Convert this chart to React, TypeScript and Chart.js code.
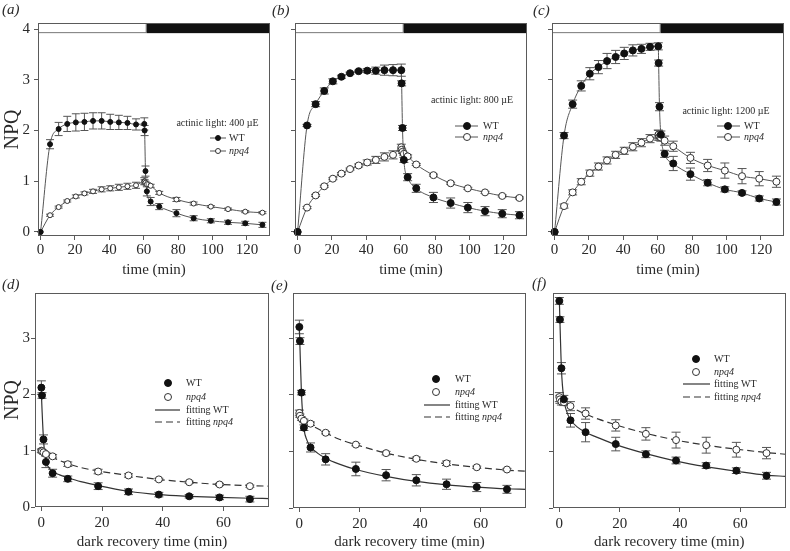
import React, { useEffect, useRef } from "react";
import { Chart, registerables } from "chart.js";

Chart.register(...registerables);

const SERIF = '"Liberation Serif", "DejaVu Serif", "Times New Roman", serif';
const FRAME = "#5a5a5a";
const TEXT = "#2a2a2a";
const LINE = "#555";
const ERR = "#555";

// ---------------- data ----------------
const topTime = [0, 5.5, 10.5, 15.5, 20.5, 25.5, 30.5, 35.5, 40.5, 45.5, 50.5, 55.5, 60.3, 60.5, 61, 61.8, 64, 69, 79, 89, 99, 109, 119, 129];
const darkTime = [0, 0.2, 0.7, 1.5, 3.7, 8.7, 18.7, 28.7, 38.7, 48.7, 58.7, 68.7];
const topXTicks = [0, 20, 40, 60, 80, 100, 120];
const topYTicks = [0, 1, 2, 3, 4];
const botXTicks = [0, 20, 40, 60];
const botYTicks = [0, 1, 2, 3];
const lightPhaseEnd = 61.7;
const barBottom = 3.92;

// (a) 400 µE
const aWT = [0, 1.73, 2.03, 2.13, 2.16, 2.17, 2.19, 2.19, 2.17, 2.16, 2.15, 2.12, 2.13, 2.0, 1.2, 0.8, 0.6, 0.5, 0.37, 0.27, 0.22, 0.19, 0.17, 0.14];
const aWTErr = [0, 0.09, 0.13, 0.15, 0.17, 0.17, 0.16, 0.16, 0.15, 0.14, 0.13, 0.11, 0.12, 0.1, 0.1, 0.09, 0.08, 0.06, 0.07, 0.05, 0.04, 0.04, 0.04, 0.05];
const aNpq4 = [0, 0.33, 0.49, 0.61, 0.7, 0.76, 0.8, 0.84, 0.86, 0.88, 0.9, 0.92, 1.0, 0.99, 0.97, 0.94, 0.91, 0.77, 0.64, 0.56, 0.5, 0.45, 0.4, 0.38];
const aNpq4Err = [0, 0.02, 0.02, 0.02, 0.03, 0.03, 0.04, 0.05, 0.05, 0.06, 0.06, 0.06, 0.07, 0.04, 0.03, 0.03, 0.03, 0.03, 0.04, 0.03, 0.02, 0.02, 0.02, 0.02];

// (b) 800 µE
const bWT = [0, 2.1, 2.52, 2.78, 2.97, 3.06, 3.13, 3.17, 3.18, 3.18, 3.19, 3.19, 3.19, 2.93, 2.05, 1.42, 1.08, 0.86, 0.68, 0.57, 0.48, 0.41, 0.36, 0.33];
const bWTErr = [0, 0.02, 0.05, 0.06, 0.05, 0.03, 0.02, 0.02, 0.04, 0.07, 0.1, 0.11, 0.12, 0.05, 0.05, 0.05, 0.07, 0.08, 0.1, 0.1, 0.1, 0.09, 0.08, 0.07];
const bNpq4 = [0, 0.48, 0.72, 0.9, 1.05, 1.15, 1.24, 1.31, 1.37, 1.42, 1.48, 1.52, 1.67, 1.62, 1.58, 1.54, 1.49, 1.33, 1.12, 0.96, 0.86, 0.78, 0.71, 0.67];
const bNpq4Err = [0, 0.02, 0.02, 0.02, 0.02, 0.02, 0.02, 0.03, 0.05, 0.07, 0.08, 0.08, 0.06, 0.03, 0.03, 0.03, 0.03, 0.02, 0.02, 0.02, 0.02, 0.02, 0.02, 0.02];

// (c) 1200 µE
const cWT = [0, 1.9, 2.52, 2.88, 3.12, 3.25, 3.37, 3.45, 3.52, 3.58, 3.61, 3.65, 3.66, 3.33, 2.47, 1.92, 1.54, 1.35, 1.14, 0.97, 0.84, 0.77, 0.66, 0.59];
const cWTErr = [0, 0.06, 0.08, 0.1, 0.12, 0.13, 0.15, 0.13, 0.12, 0.11, 0.09, 0.07, 0.07, 0.06, 0.08, 0.07, 0.07, 0.14, 0.12, 0.06, 0.05, 0.04, 0.05, 0.06];
const cNpq4 = [0, 0.51, 0.78, 0.99, 1.16, 1.29, 1.41, 1.52, 1.6, 1.68, 1.76, 1.84, 1.91, 1.92, 1.88, 1.86, 1.8, 1.69, 1.46, 1.31, 1.21, 1.1, 1.05, 0.99];
const cNpq4Err = [0, 0.04, 0.05, 0.06, 0.06, 0.07, 0.07, 0.07, 0.07, 0.08, 0.08, 0.08, 0.1, 0.08, 0.07, 0.07, 0.09, 0.1, 0.11, 0.12, 0.15, 0.15, 0.14, 0.11];

// (d) dark recovery after 400 µE
const dWT = [2.12, 1.98, 1.2, 0.8, 0.6, 0.5, 0.37, 0.27, 0.22, 0.19, 0.17, 0.14];
const dWTErr = [0.12, 0.05, 0.08, 0.1, 0.07, 0.05, 0.06, 0.05, 0.04, 0.03, 0.04, 0.05];
const dNpq4 = [1.0, 0.99, 0.97, 0.94, 0.9, 0.76, 0.63, 0.56, 0.49, 0.44, 0.4, 0.37];
const dNpq4Err = [0.03, 0.03, 0.03, 0.03, 0.03, 0.04, 0.04, 0.03, 0.02, 0.02, 0.02, 0.02];

// (e) dark recovery after 800 µE
const eWT = [3.2, 2.95, 2.04, 1.42, 1.07, 0.86, 0.69, 0.58, 0.49, 0.42, 0.37, 0.33];
const eWTErr = [0.12, 0.06, 0.04, 0.05, 0.08, 0.1, 0.12, 0.1, 0.1, 0.09, 0.08, 0.07];
const eNpq4 = [1.68, 1.63, 1.58, 1.54, 1.49, 1.33, 1.12, 0.97, 0.87, 0.79, 0.72, 0.68];
const eNpq4Err = [0.05, 0.03, 0.03, 0.03, 0.03, 0.02, 0.02, 0.03, 0.03, 0.04, 0.02, 0.02];

// (f) dark recovery after 1200 µE
const fWT = [3.66, 3.33, 2.47, 1.92, 1.55, 1.34, 1.13, 0.95, 0.84, 0.75, 0.66, 0.57];
const fWTErr = [0.06, 0.05, 0.1, 0.07, 0.12, 0.17, 0.12, 0.06, 0.06, 0.05, 0.05, 0.06];
const fNpq4 = [1.96, 1.92, 1.88, 1.87, 1.8, 1.67, 1.46, 1.31, 1.2, 1.11, 1.03, 0.97];
const fNpq4Err = [0.08, 0.07, 0.06, 0.06, 0.08, 0.1, 0.1, 0.11, 0.14, 0.14, 0.13, 0.1];

// fitted curves
const fitTimeWT = [0, 0.2, 0.7, 1.5, 2.5, 3.7, 6, 8.7, 13, 18.7, 28.7, 38.7, 48.7, 58.7, 68.7, 75];
const fitTimeNpq4 = [0, 0.7, 1.5, 3.7, 8.7, 13, 18.7, 28.7, 38.7, 48.7, 58.7, 68.7, 75];
const dFitWT = [2.02, 1.75, 1.2, 0.82, 0.7, 0.63, 0.57, 0.52, 0.45, 0.38, 0.28, 0.22, 0.19, 0.17, 0.155, 0.15];
const dFitNpq4 = [1.0, 0.97, 0.94, 0.88, 0.77, 0.7, 0.64, 0.56, 0.49, 0.44, 0.4, 0.38, 0.37];
const eFitWT = [3.2, 2.85, 2.02, 1.42, 1.2, 1.08, 0.97, 0.88, 0.78, 0.68, 0.56, 0.47, 0.41, 0.37, 0.34, 0.33];
const eFitNpq4 = [1.68, 1.59, 1.54, 1.47, 1.33, 1.22, 1.12, 0.97, 0.86, 0.78, 0.72, 0.67, 0.65];
const fFitWT = [3.68, 3.3, 2.45, 1.92, 1.7, 1.56, 1.43, 1.34, 1.24, 1.12, 0.96, 0.83, 0.73, 0.65, 0.58, 0.56];
const fFitNpq4 = [1.96, 1.9, 1.86, 1.79, 1.66, 1.57, 1.47, 1.32, 1.2, 1.11, 1.04, 0.98, 0.95];

// ---------------- types ----------------
type Kind = "filled" | "open" | "solid" | "dashed";
interface Series { x: number[]; y: number[]; err?: number[]; kind: Kind; line: boolean; r: number; cap: number; }
type RowKind = "lineFilled" | "lineOpen" | "filled" | "open" | "solid" | "dashed";
interface Part { t: string; it?: boolean; }
interface Row { parts: Part[]; kind: RowKind; y: number; }
interface Legend { header?: string; hx?: number; hy?: number; lx1: number; lx2: number; mx: number; tx: number; r: number; rows: Row[]; }
interface PanelSpec {
  key: string; letter: string; letterLeft: number; letterTop: number;
  left: number; top: number; width: number; height: number;
  padTop: number; padRight: number; yWidth: number; xHeight: number;
  xMin: number; xMax: number; yMin: number; yMax: number;
  xTicks: number[]; yTicks: number[]; yLabels: boolean;
  xTitle: string; yTitle?: string; xTickPad: number; yTickPad: number;
  bar: boolean; series: Series[]; legend: Legend;
}

const topLegendRows = (y1: number, y2: number): Row[] => [
  { parts: [{ t: "WT" }], kind: "lineFilled", y: y1 },
  { parts: [{ t: "npq4", it: true }], kind: "lineOpen", y: y2 },
];
const botLegendRows = (ys: number[]): Row[] => [
  { parts: [{ t: "WT" }], kind: "filled", y: ys[0] },
  { parts: [{ t: "npq4", it: true }], kind: "open", y: ys[1] },
  { parts: [{ t: "fitting WT" }], kind: "solid", y: ys[2] },
  { parts: [{ t: "fitting " }, { t: "npq4", it: true }], kind: "dashed", y: ys[3] },
];

const topSeries = (wt: number[], wtE: number[], np: number[], npE: number[], r: number, cap: number): Series[] => [
  { x: topTime, y: wt, err: wtE, kind: "filled", line: true, r, cap },
  { x: topTime, y: np, err: npE, kind: "open", line: true, r, cap },
];
const botSeries = (wt: number[], wtE: number[], np: number[], npE: number[], fw: number[], fn: number[]): Series[] => [
  { x: darkTime, y: wt, err: wtE, kind: "filled", line: false, r: 3.5, cap: 4.5 },
  { x: darkTime, y: np, err: npE, kind: "open", line: false, r: 3.5, cap: 4.5 },
  { x: fitTimeWT, y: fw, kind: "solid", line: true, r: 0, cap: 0 },
  { x: fitTimeNpq4, y: fn, kind: "dashed", line: true, r: 0, cap: 0 },
];

const topCommon = {
  top: 0, height: 280, padTop: 23, xHeight: 44,
  xMin: -1.5, xMax: 133.4, yMin: -0.08, yMax: 4.12,
  xTicks: topXTicks, yTicks: topYTicks, xTitle: "time (min)", xTickPad: 1, yTickPad: 4, bar: true,
};
const botCommon = {
  top: 280, height: 271, padTop: 13,
  xMin: -2.1, xMax: 75, yMin: 0, yMax: 3.8,
  xTicks: botXTicks, yTicks: botYTicks, xTitle: "dark recovery time (min)", xTickPad: 3, yTickPad: 1, bar: false,
};

const panels: PanelSpec[] = [
  {
    ...topCommon, key: "a", letter: "a", letterLeft: 2, letterTop: 0,
    left: 0, width: 280, padRight: 10, yWidth: 38, yLabels: true, yTitle: "NPQ",
    series: topSeries(aWT, aWTErr, aNpq4, aNpq4Err, 2.5, 4),
    legend: { header: "actinic light: 400 µE", hx: 217.5, hy: 123, lx1: 210, lx2: 226, mx: 218, tx: 229, r: 2.5, rows: topLegendRows(138, 151) },
  },
  {
    ...topCommon, key: "b", letter: "b", letterLeft: 272, letterTop: 1,
    left: 280, width: 255, padRight: 8, yWidth: 15, yLabels: false,
    series: topSeries(bWT, bWTErr, bNpq4, bNpq4Err, 3.5, 4.5),
    legend: { header: "actinic light: 800 µE", hx: 472, hy: 100, lx1: 455, lx2: 478, mx: 467, tx: 483, r: 3.5, rows: topLegendRows(126, 137) },
  },
  {
    ...topCommon, key: "c", letter: "c", letterLeft: 533, letterTop: 1,
    left: 540, width: 250, padRight: 6, yWidth: 12, yLabels: false,
    series: topSeries(cWT, cWTErr, cNpq4, cNpq4Err, 3.5, 4.5),
    legend: { header: "actinic light: 1200 µE", hx: 726, hy: 111, lx1: 717, lx2: 740, mx: 728, tx: 744, r: 3.5, rows: topLegendRows(126, 137) },
  },
  {
    ...botCommon, key: "d", letter: "d", letterLeft: 2, letterTop: 275,
    left: 0, width: 280, padRight: 11, yWidth: 35, xHeight: 44, yLabels: true, yTitle: "NPQ",
    series: botSeries(dWT, dWTErr, dNpq4, dNpq4Err, dFitWT, dFitNpq4),
    legend: { lx1: 155, lx2: 180, mx: 168, tx: 186, r: 3.5, rows: botLegendRows([383, 397, 410, 422]) },
  },
  {
    ...botCommon, key: "e", letter: "e", letterLeft: 271, letterTop: 276,
    left: 280, width: 255, padRight: 9, yWidth: 13, xHeight: 43, yLabels: false,
    series: botSeries(eWT, eWTErr, eNpq4, eNpq4Err, eFitWT, eFitNpq4),
    legend: { lx1: 424, lx2: 450, mx: 436, tx: 455, r: 3.5, rows: botLegendRows([379, 392, 405, 417]) },
  },
  {
    ...botCommon, key: "f", letter: "f", letterLeft: 532, letterTop: 274,
    left: 540, width: 250, padRight: 3, yWidth: 13, xHeight: 43, yLabels: false,
    series: botSeries(fWT, fWTErr, fNpq4, fNpq4Err, fFitWT, fFitNpq4),
    legend: { lx1: 683, lx2: 710, mx: 696, tx: 714, r: 3.5, rows: botLegendRows([359, 372, 384, 397]) },
  },
];

// ---------------- drawing helpers ----------------
function marker(ctx: CanvasRenderingContext2D, x: number, y: number, r: number, filled: boolean) {
  ctx.beginPath();
  ctx.arc(x, y, r, 0, Math.PI * 2);
  ctx.fillStyle = filled ? "#111" : "#fff";
  ctx.fill();
  ctx.lineWidth = 1;
  ctx.strokeStyle = filled ? "#111" : "#333";
  ctx.stroke();
}

function buildConfig(p: PanelSpec): any {
  const datasets = p.series.map((s) => {
    const pts = s.x.map((xv, i) => ({ x: xv, y: s.y[i] }));
    if (s.kind === "solid" || s.kind === "dashed") {
      return {
        data: pts, showLine: true, pointRadius: 0, borderColor: "#333", borderWidth: 1.2,
        borderDash: s.kind === "dashed" ? [7, 4] : [], cubicInterpolationMode: "monotone", fill: false,
      };
    }
    const filled = s.kind === "filled";
    return {
      data: pts, showLine: s.line, pointRadius: s.r, pointHoverRadius: s.r,
      pointBackgroundColor: filled ? "#111" : "#fff", pointBorderColor: filled ? "#111" : "#333",
      pointBorderWidth: 1, borderColor: LINE, borderWidth: 1, cubicInterpolationMode: "monotone",
      fill: false, clip: false,
    };
  });

  const decor = {
    id: "decor_" + p.key,
    beforeDatasetsDraw(chart: any) {
      const ctx: CanvasRenderingContext2D = chart.ctx;
      const xs = chart.scales.x, ys = chart.scales.y;
      ctx.save();
      ctx.strokeStyle = ERR;
      ctx.lineWidth = 1;
      p.series.forEach((s) => {
        if (!s.err) return;
        s.x.forEach((xv, i) => {
          const e = s.err![i];
          if (!e) return;
          const px = xs.getPixelForValue(xv);
          const y1 = ys.getPixelForValue(s.y[i] + e);
          const y2 = ys.getPixelForValue(s.y[i] - e);
          ctx.beginPath();
          ctx.moveTo(px, y1); ctx.lineTo(px, y2);
          ctx.moveTo(px - s.cap, y1); ctx.lineTo(px + s.cap, y1);
          ctx.moveTo(px - s.cap, y2); ctx.lineTo(px + s.cap, y2);
          ctx.stroke();
        });
      });
      ctx.restore();
    },
    afterDraw(chart: any) {
      const ctx: CanvasRenderingContext2D = chart.ctx;
      const a = chart.chartArea;
      const xs = chart.scales.x, ys = chart.scales.y;
      ctx.save();
      if (p.bar) {
        const xSplit = xs.getPixelForValue(lightPhaseEnd);
        const yb = ys.getPixelForValue(barBottom);
        ctx.fillStyle = "#fff";
        ctx.fillRect(a.left, a.top, xSplit - a.left, yb - a.top);
        ctx.strokeStyle = "#777";
        ctx.lineWidth = 1;
        ctx.strokeRect(a.left + 0.5, a.top + 0.5, xSplit - a.left - 1, yb - a.top - 1);
        ctx.fillStyle = "#111";
        ctx.fillRect(xSplit, a.top, a.right - xSplit, yb - a.top);
      }
      // frame
      ctx.strokeStyle = FRAME;
      ctx.lineWidth = 1;
      ctx.strokeRect(Math.round(a.left) + 0.5, Math.round(a.top) + 0.5, Math.round(a.width) - 1, Math.round(a.height) - 1);

      // legend
      const L = p.legend;
      const ox = p.left, oy = p.top;
      ctx.textBaseline = "middle";
      if (L.header) {
        ctx.font = `10px ${SERIF}`;
        ctx.fillStyle = TEXT;
        ctx.textAlign = "center";
        ctx.fillText(L.header, L.hx! - ox, L.hy! - oy);
      }
      L.rows.forEach((r) => {
        const y = r.y - oy;
        if (r.kind === "lineFilled" || r.kind === "lineOpen" || r.kind === "solid" || r.kind === "dashed") {
          ctx.beginPath();
          ctx.strokeStyle = r.kind === "solid" || r.kind === "dashed" ? "#333" : LINE;
          ctx.lineWidth = r.kind === "solid" || r.kind === "dashed" ? 1.2 : 1;
          ctx.setLineDash(r.kind === "dashed" ? [7, 4] : []);
          ctx.moveTo(L.lx1 - ox, y);
          ctx.lineTo(L.lx2 - ox, y);
          ctx.stroke();
          ctx.setLineDash([]);
        }
        if (r.kind === "lineFilled" || r.kind === "filled") marker(ctx, L.mx - ox, y, L.r, true);
        if (r.kind === "lineOpen" || r.kind === "open") marker(ctx, L.mx - ox, y, L.r, false);
        let tx = L.tx - ox;
        ctx.textAlign = "left";
        ctx.fillStyle = TEXT;
        r.parts.forEach((pt) => {
          ctx.font = `${pt.it ? "italic " : ""}10px ${SERIF}`;
          ctx.fillText(pt.t, tx, y);
          tx += ctx.measureText(pt.t).width;
        });
      });
      ctx.restore();
    },
  };

  return {
    type: "scatter",
    data: { datasets },
    plugins: [decor],
    options: {
      animation: false,
      responsive: false,
      devicePixelRatio: 1,
      events: [],
      layout: { padding: { top: p.padTop, right: p.padRight, left: 0, bottom: 0 } },
      plugins: { legend: { display: false }, tooltip: { enabled: false }, title: { display: false } },
      scales: {
        x: {
          type: "linear", min: p.xMin, max: p.xMax,
          afterBuildTicks: (s: any) => { s.ticks = p.xTicks.map((v) => ({ value: v })); },
          afterFit: (s: any) => { s.height = p.xHeight; s.paddingLeft = 0; s.paddingRight = 0; },
          grid: { drawOnChartArea: false, drawTicks: true, tickLength: 4, color: FRAME, lineWidth: 1 },
          border: { display: false },
          ticks: { color: TEXT, font: { family: SERIF, size: 15 }, padding: p.xTickPad, maxRotation: 0, autoSkip: false },
          title: { display: true, text: p.xTitle, color: TEXT, font: { family: SERIF, size: 15 }, padding: { top: 0, bottom: p.key < "d" ? 1 : 0 } },
        },
        y: {
          type: "linear", min: p.yMin, max: p.yMax,
          afterBuildTicks: (s: any) => { s.ticks = p.yTicks.map((v) => ({ value: v })); },
          afterFit: (s: any) => { s.width = p.yWidth; s.paddingTop = 0; s.paddingBottom = 0; },
          grid: { drawOnChartArea: false, drawTicks: true, tickLength: 4, color: FRAME, lineWidth: 1 },
          border: { display: false },
          ticks: {
            color: TEXT, font: { family: SERIF, size: 15 }, padding: p.yTickPad, autoSkip: false,
            callback: (v: any) => (p.yLabels ? String(v) : ""),
          },
          title: p.yTitle
            ? { display: true, text: p.yTitle, color: TEXT, font: { family: SERIF, size: 20 }, padding: { top: 1, bottom: 0 } }
            : { display: false },
        },
      },
    },
  };
}

function Panel({ spec }: { spec: PanelSpec }) {
  const ref = useRef<HTMLCanvasElement>(null);
  useEffect(() => {
    const chart = new Chart(ref.current as HTMLCanvasElement, buildConfig(spec));
    return () => chart.destroy();
  }, [spec]);
  return (
    <canvas
      ref={ref}
      width={spec.width}
      height={spec.height}
      style={{ position: "absolute", left: spec.left, top: spec.top, width: spec.width, height: spec.height }}
    />
  );
}

export default function App() {
  return (
    <div style={{ position: "absolute", left: 0, top: 0, width: 790, height: 551, background: "#fff", overflow: "hidden" }}>
      {panels.map((p) => (
        <Panel key={p.key} spec={p} />
      ))}
      {panels.map((p) => (
        <div
          key={"lbl" + p.key}
          style={{
            position: "absolute", left: p.letterLeft, top: p.letterTop,
            fontFamily: SERIF, fontStyle: "italic", fontSize: 15, lineHeight: "18px", color: TEXT,
          }}
        >
          ({p.letter})
        </div>
      ))}
    </div>
  );
}
